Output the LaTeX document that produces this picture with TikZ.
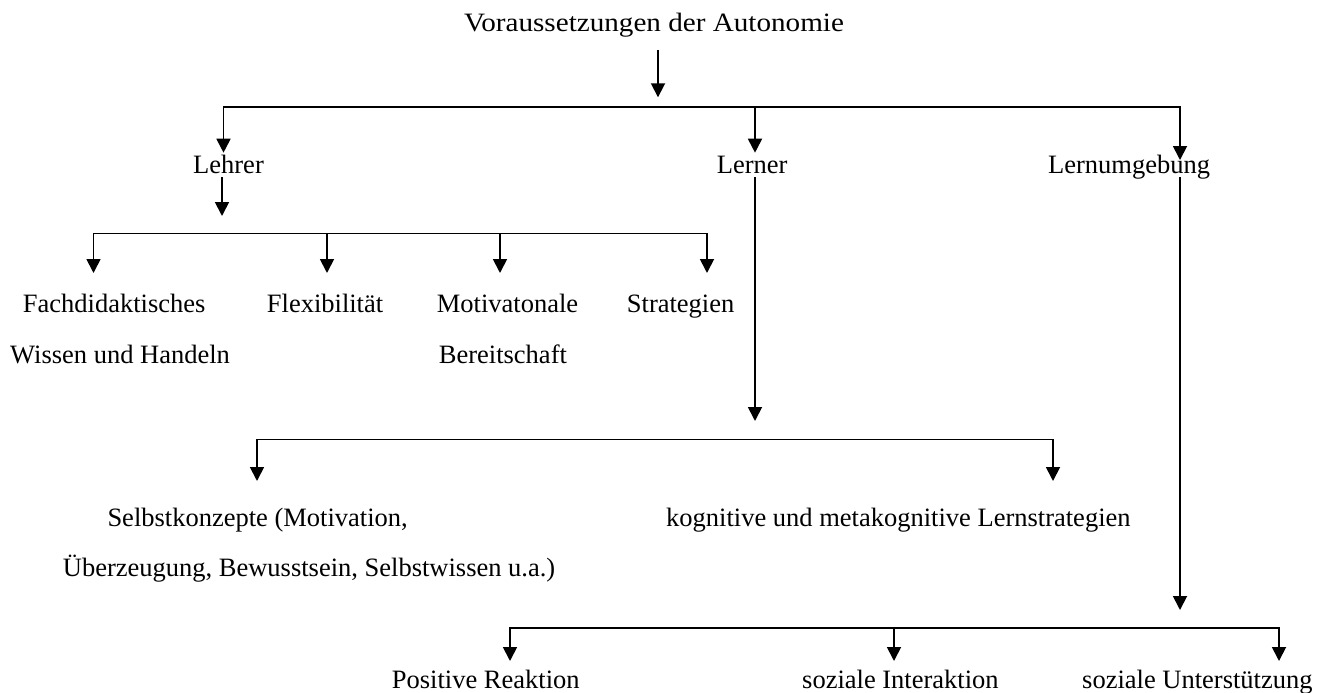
\documentclass[tikz,border=0pt]{standalone}
\usepackage{graphicx}
\usepackage{fontspec}
\setmainfont{Liberation Serif}
\usetikzlibrary{arrows.meta}

\begin{document}
\begin{tikzpicture}[x=1pt,y=-1pt,
  >={Triangle[length=14pt,width=14pt]},
  lbl/.style={anchor=base west, inner sep=0pt, font=\fontsize{26.5}{30}\selectfont},
  line/.style={line width=1.8pt, line join=miter},
]
\useasboundingbox (0,0) rectangle (1336,693);

% ---- labels ----
\node[lbl, anchor=base] (title) at (654,31.7) {\scalebox{1.1}[1]{Voraussetzungen der Autonomie}};

\node[lbl] (lehrer) at (193,173) {Lehrer};
\node[lbl] (lerner) at (716.7,173.3) {Lerner};
\node[lbl] (umgeb) at (1048,173.3) {Lernumgebung};

\node[lbl] (fach1) at (22.7,312.3) {Fachdidaktisches};
\node[lbl] (fach2) at (10,363.3) {Wissen und Handeln};
\node[lbl] (flex) at (266.7,312) {Flexibilität};
\node[lbl] (motiv1) at (436.7,312) {Motivatonale};
\node[lbl] (motiv2) at (438.7,363) {Bereitschaft};
\node[lbl] (strat) at (626.7,312) {Strategien};

\node[lbl] (selbst1) at (107.3,526) {Selbstkonzepte (Motivation,};
\node[lbl] (selbst2) at (62.7,576.7) {Überzeugung, Bewusstsein, Selbstwissen u.a.)};
\node[lbl] (kogn) at (666,526.7) {kognitive und metakognitive Lernstrategien};

\node[lbl] (posit) at (391.7,688) {Positive Reaktion};
\node[lbl] (inter) at (802,688) {soziale Interaktion};
\node[lbl] (unter) at (1082,688) {soziale Unterstützung};

% ---- connector points ----
\coordinate (t0) at (658,50);
\coordinate (t1) at (658,97.3);
\coordinate (b1l) at (223.5,107.3);
\coordinate (b1m) at (755,107.3);
\coordinate (b1r) at (1180,107.3);
\coordinate (a-lehrer) at (223.5,152.7);
\coordinate (a-lerner) at (755,152.7);
\coordinate (a-umgeb) at (1180,160);

\coordinate (lehrer-s) at (222,177);
\coordinate (lehrer-t) at (222,216);
\coordinate (b2l) at (93.5,233.5);
\coordinate (b2a) at (327,233.5);
\coordinate (b2b) at (500,233.5);
\coordinate (b2r) at (707,233.5);
\coordinate (a-fach) at (93.5,273);
\coordinate (a-flex) at (327,273);
\coordinate (a-motiv) at (500,273);
\coordinate (a-strat) at (707,273);

\coordinate (lerner-s) at (755,177);
\coordinate (lerner-t) at (755,421);
\coordinate (b3l) at (257,439.5);
\coordinate (b3r) at (1053,439.5);
\coordinate (a-selbst) at (257,481);
\coordinate (a-kogn) at (1053,481);

\coordinate (umgeb-s) at (1180,177);
\coordinate (umgeb-t) at (1180,610);
\coordinate (b4l) at (510,628.3);
\coordinate (b4m) at (894,628.3);
\coordinate (b4r) at (1279,628.3);
\coordinate (a-posit) at (510,661);
\coordinate (a-inter) at (894,661);
\coordinate (a-unter) at (1279,661);

% ---- connectors ----
\draw[line, ->] (t0) -- (t1);
\draw[line, <->] (a-lehrer) -- (b1l) -- (b1r) -- (a-umgeb);
\draw[line, ->] (b1m) -- (a-lerner);

\draw[line, ->] (lehrer-s) -- (lehrer-t);
\draw[line, <->] (a-fach) -- (b2l) -- (b2r) -- (a-strat);
\draw[line, ->] (b2a) -- (a-flex);
\draw[line, ->] (b2b) -- (a-motiv);

\draw[line, ->] (lerner-s) -- (lerner-t);
\draw[line, <->] (a-selbst) -- (b3l) -- (b3r) -- (a-kogn);

\draw[line, ->] (umgeb-s) -- (umgeb-t);
\draw[line, <->] (a-posit) -- (b4l) -- (b4r) -- (a-unter);
\draw[line, ->] (b4m) -- (a-inter);
\end{tikzpicture}
\end{document}
